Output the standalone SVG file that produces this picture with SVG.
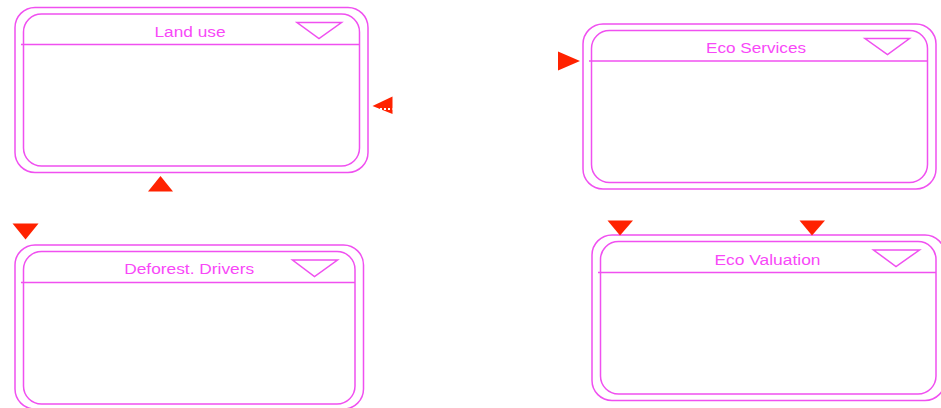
<svg xmlns="http://www.w3.org/2000/svg" width="941" height="408" viewBox="0 0 941 408">
<style>
.b{fill:none;stroke:#f050f0;stroke-width:1.5}
.h{stroke:#f050f0;stroke-width:1.3}
.t{fill:#f848f8;font-family:"Liberation Sans",Arial,sans-serif;font-size:14px;text-anchor:middle}
.a{fill:#ff2200}
</style>
<rect width="941" height="408" fill="#fff"/>
<g id="land-use">
<rect class="b" x="15" y="7.5" width="353" height="165" rx="20"/>
<rect class="b" x="23.5" y="14" width="336" height="152" rx="18"/>
<line class="h" x1="21" y1="44.5" x2="359.5" y2="44.5"/>
<text class="t" x="190" y="37.3" textLength="71" lengthAdjust="spacingAndGlyphs">Land use</text>
<polygon class="b" points="297,22.5 341.5,22.5 319,38.5"/>
</g>
<g id="eco-services">
<rect class="b" x="583" y="24" width="353" height="165" rx="20"/>
<rect class="b" x="591.5" y="30.5" width="336" height="152" rx="18"/>
<line class="h" x1="589" y1="61" x2="927.5" y2="61"/>
<text class="t" x="756" y="53" textLength="100" lengthAdjust="spacingAndGlyphs">Eco Services</text>
<polygon class="b" points="865,38.5 909.5,38.5 887.5,54.5"/>
</g>
<g id="deforest-drivers">
<rect class="b" x="15" y="245" width="348.5" height="164" rx="20"/>
<rect class="b" x="23.5" y="251.5" width="331.5" height="152.5" rx="18"/>
<line class="h" x1="21" y1="282.5" x2="355" y2="282.5"/>
<text class="t" x="189.2" y="274" textLength="130" lengthAdjust="spacingAndGlyphs">Deforest. Drivers</text>
<polygon class="b" points="292.5,260 337.5,260 314.5,276.5"/>
</g>
<g id="eco-valuation">
<rect class="b" x="592" y="235" width="353" height="165.5" rx="20"/>
<rect class="b" x="600.5" y="241.5" width="335.5" height="152.5" rx="18"/>
<line class="h" x1="598" y1="272.5" x2="936" y2="272.5"/>
<text class="t" x="767.5" y="265" textLength="106" lengthAdjust="spacingAndGlyphs">Eco Valuation</text>
<polygon class="b" points="873.5,250 919.5,250 896,266.5"/>
</g>
<g id="connectors">
<polygon class="a" points="148,191.5 173,191.5 160.5,176"/>
<polygon class="a" points="392.5,96.5 392.5,114 372.5,106"/>
<line x1="376" y1="109" x2="392.5" y2="109" stroke="#fff" stroke-width="2" stroke-dasharray="2,2"/>
<polygon class="a" points="558,51.5 558,70.5 580,61"/>
<polygon class="a" points="12.5,223.5 38.5,223.5 25.5,239.5"/>
<polygon class="a" points="607.5,220.5 633,220.5 620,235.5"/>
<polygon class="a" points="799.5,220.5 825,220.5 812,235.5"/>
</g>
</svg>
